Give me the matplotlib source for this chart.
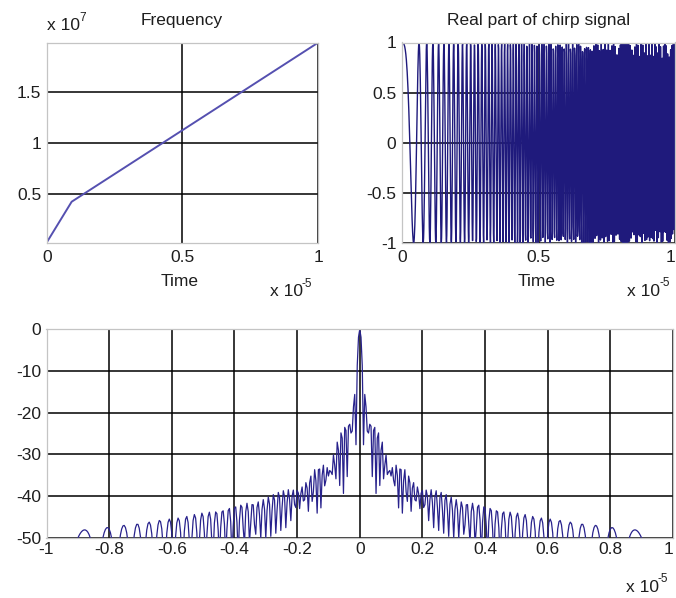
import numpy as np
import matplotlib
matplotlib.use("Agg")
import matplotlib.pyplot as plt
from matplotlib.ticker import FuncFormatter

# ---------------- data ----------------
# piecewise-linear instantaneous frequency of the chirp (knots read off the "Frequency" panel)
t_knots = [0.0, 0.092e-5, 1.0e-5]          # time (s)
f_knots = [0.025e7, 0.424e7, 1.98e7]       # frequency (Hz)
fs_signal = 1e8                            # sampling rate used for the displayed chirp
corr_decim = 2                             # decimation used before the autocorrelation
corr_lag_scale = 2                         # lag-axis scaling of the correlation panel

freq_xticks = [0.0, 0.5e-5, 1.0e-5]
freq_yticks = [0.5e7, 1.0e7, 1.5e7]
sig_xticks = [0.0, 0.5e-5, 1.0e-5]
sig_yticks = [-1, -0.5, 0, 0.5, 1]
corr_xticks = [-1.0e-5, -0.8e-5, -0.6e-5, -0.4e-5, -0.2e-5, 0.0,
               0.2e-5, 0.4e-5, 0.6e-5, 0.8e-5, 1.0e-5]
corr_yticks = [0, -10, -20, -30, -40, -50]
corr_ylim = [-50, 0]

titles = ["Frequency", "Real part of chirp signal"]
xlabel = "Time"

# ---------------- signal ----------------
t = np.arange(0.0, t_knots[-1] + 0.5 / fs_signal, 1.0 / fs_signal)
f_inst = np.interp(t, t_knots, f_knots)
phase = 2 * np.pi * np.concatenate([[0.0], np.cumsum((f_inst[1:] + f_inst[:-1]) / 2 / fs_signal)])
chirp = np.exp(1j * phase)

sc = chirp[::corr_decim]
fs_c = fs_signal / corr_decim
r = np.correlate(sc, sc, mode="full")
r_db = 20 * np.log10(np.abs(r) / np.abs(r).max() + 1e-15)
lag = np.arange(-(len(sc) - 1), len(sc)) / fs_c * corr_lag_scale

# ---------------- style ----------------
plt.rcParams["font.family"] = ["Liberation Sans", "DejaVu Sans"]
plt.rcParams["axes.unicode_minus"] = False
TXT = "#1e1e1e"
FS = 12.5
W, H = 676, 598

fig = plt.figure(figsize=(W / 100, H / 100), dpi=100)


def box(l, t_, r_, b):
    return [l / W, 1 - b / H, (r_ - l) / W, (b - t_) / H]


def style(ax, xpad):
    ax.set_axisbelow(True)
    ax.grid(True, color="black", lw=1.1)
    ax.tick_params(length=0, labelsize=FS, colors=TXT)
    ax.tick_params(axis="x", pad=xpad)
    ax.tick_params(axis="y", pad=4)
    for sp in ax.spines.values():
        sp.set_color("#c4c4c4")
        sp.set_linewidth(0.9)


fmt_x = FuncFormatter(lambda v, p: "%g" % round(v / 1e-5, 2))

# Frequency panel
ax1 = fig.add_axes(box(46.7, 42.7, 318, 242.5))
ax1.plot(t_knots, f_knots, color="#5550b0", lw=1.4)
ax1.set_xlim(t_knots[0], t_knots[-1])
ax1.set_ylim(min(f_knots), max(f_knots))
ax1.set_xticks(freq_xticks)
ax1.set_yticks(freq_yticks)
ax1.xaxis.set_major_formatter(fmt_x)
ax1.yaxis.set_major_formatter(FuncFormatter(lambda v, p: "%g" % round(v / 1e7, 2)))
style(ax1, 5.2)

# Real part panel
ax2 = fig.add_axes(box(402, 42.5, 675, 243))
ax2.plot(t, chirp.real, color="#1f1a7c", lw=1.0)
ax2.set_xlim(0, t_knots[-1])
ax2.set_ylim(-1, 1)
ax2.set_xticks(sig_xticks)
ax2.set_yticks(sig_yticks)
ax2.xaxis.set_major_formatter(fmt_x)
ax2.yaxis.set_major_formatter(FuncFormatter(lambda v, p: "%g" % v))
style(ax2, 5.2)

# Autocorrelation panel
ax3 = fig.add_axes(box(46.5, 329.3, 673, 537.5))
ax3.plot(lag, r_db, color="#28228c", lw=0.9)
ax3.set_xlim(corr_xticks[0], corr_xticks[-1])
ax3.set_ylim(*corr_ylim)
ax3.set_xticks(corr_xticks)
ax3.set_yticks(corr_yticks)
ax3.xaxis.set_major_formatter(fmt_x)
ax3.yaxis.set_major_formatter(FuncFormatter(lambda v, p: "%g" % v))
style(ax3, 3)

fig.canvas.draw()
ax2.get_xticklabels()[-1].set_horizontalalignment("right")
ax3.get_xticklabels()[-1].set_horizontalalignment("right")


# texts
def ftext(x, y, s, size=FS, **kw):
    fig.text(x / W, 1 - y / H, s, color=TXT, fontsize=size, va="center", **kw)


def mult(x, y, exp):
    ftext(x, y, "x 10", ha="left")
    ftext(x + 32, y - 8, exp, size=8.5, ha="left")


ftext(182, 20, titles[0], ha="center")
ftext(539, 20, titles[1], ha="center")
ftext(180, 282, xlabel, ha="center")
ftext(537, 282, xlabel, ha="center")
mult(47, 26, "7")
mult(270, 292, "-5")
mult(627, 291, "-5")
mult(626, 587, "-5")

fig.savefig("out.png", dpi=100)
